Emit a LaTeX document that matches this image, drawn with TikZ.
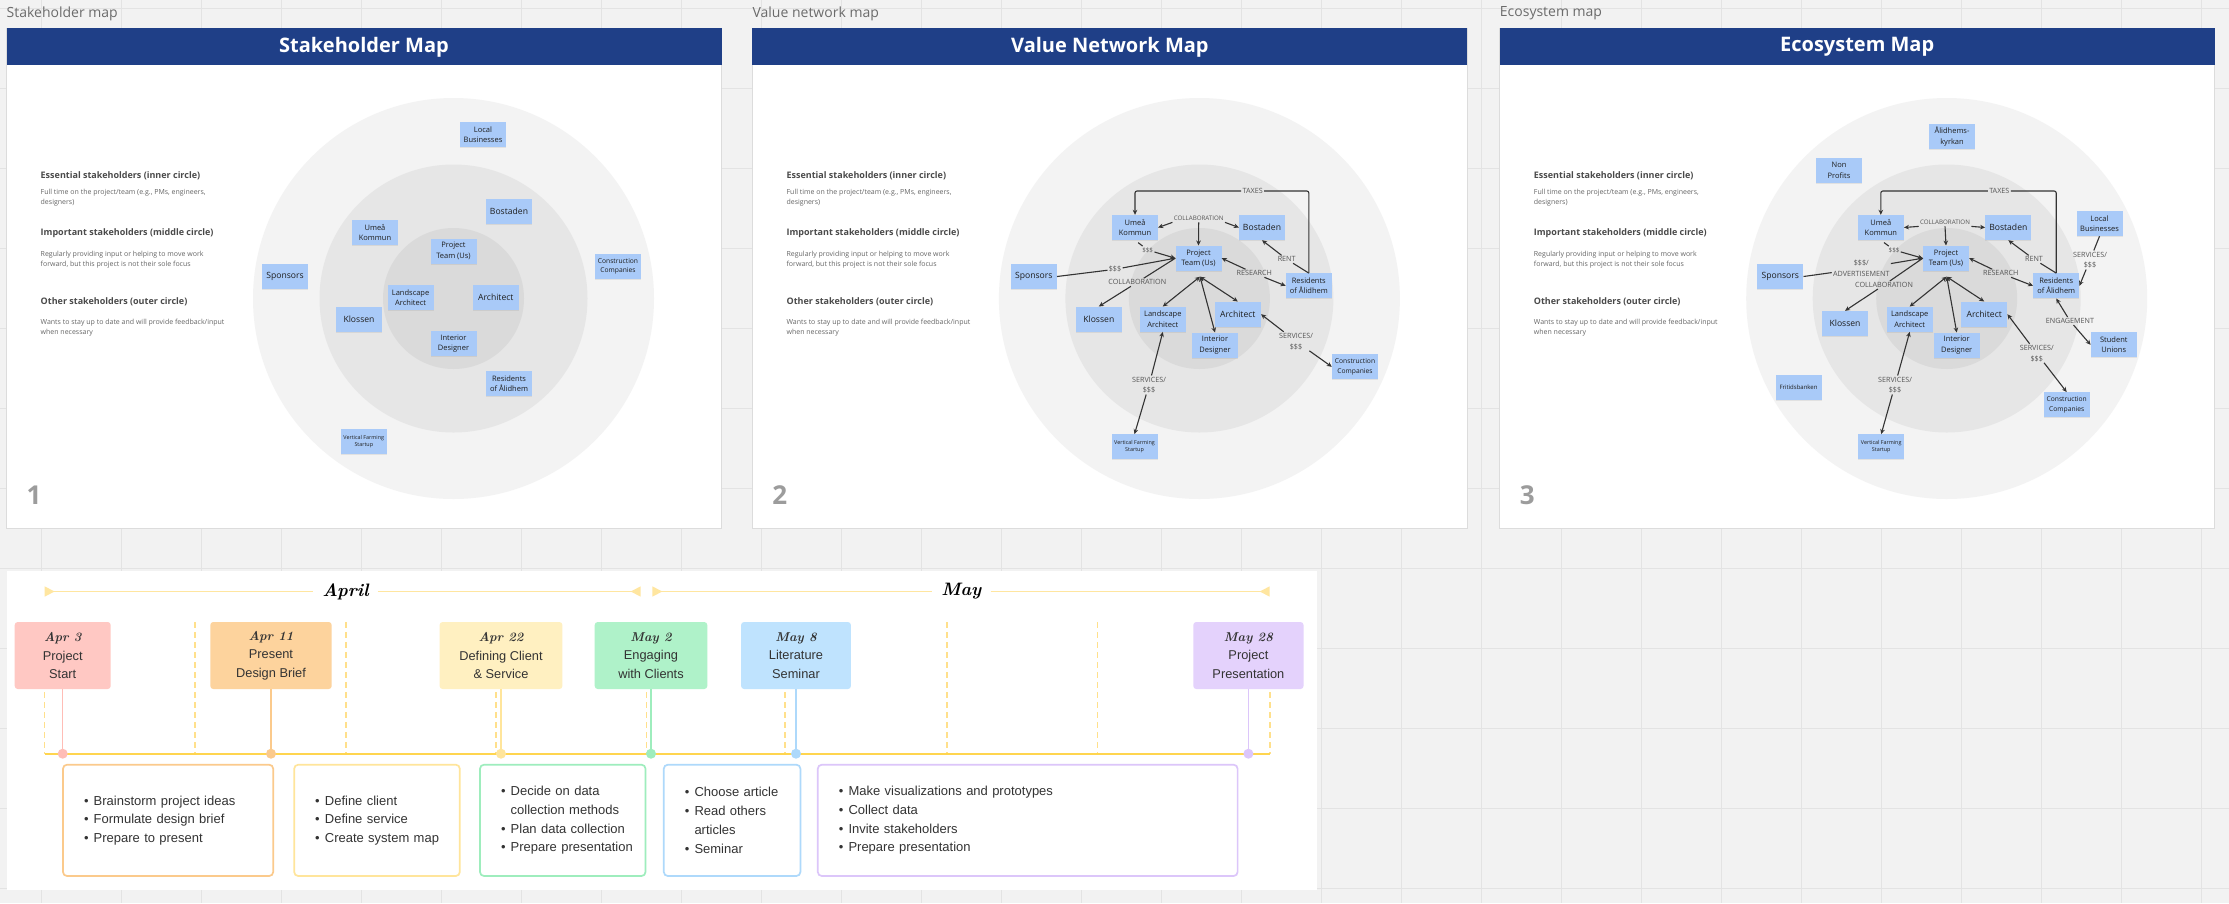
\documentclass[tikz,border=0pt]{standalone}
\usepackage{fontspec}
\newfontfamily\osans{Open Sans}
\newfontfamily\lsans{Liberation Sans}
\usetikzlibrary{arrows.meta,shadows}
\newcommand\fsz[2]{\fontsize{#1}{#2}\selectfont}
\newcommand\hand{\rmfamily\bfseries\itshape}
\newcommand\itm[1]{\mbox{\makebox[9.7pt][l]{\textbullet}#1}}
\newcommand\cnt[1]{\mbox{\hspace*{9.7pt}#1}}
\definecolor{canvas}{HTML}{F2F2F2}
\definecolor{gridc}{HTML}{E3E3E3}
\definecolor{titleblue}{HTML}{1F3F87}
\definecolor{ringA}{HTML}{F3F3F3}
\definecolor{ringB}{HTML}{E6E6E6}
\definecolor{ringC}{HTML}{DADADA}
\definecolor{stickyc}{HTML}{A9CAF8}
\definecolor{inkd}{HTML}{1E1E1E}
\definecolor{arrowc}{HTML}{333333}
\definecolor{lblc}{HTML}{555555}
\definecolor{headc}{HTML}{4A4A4A}
\definecolor{bodyc}{HTML}{666666}
\definecolor{secc}{HTML}{6B6B6B}
\definecolor{numc}{HTML}{9C9C9C}
\definecolor{panelline}{HTML}{DCDCDC}
\definecolor{tltext}{HTML}{333333}
\definecolor{pinkf}{HTML}{FFC8C3}\definecolor{pinks}{HTML}{FFBDB6}
\definecolor{orangef}{HTML}{FDD39D}\definecolor{oranges}{HTML}{FBCA8C}
\definecolor{yellowf}{HTML}{FFF0C1}\definecolor{yellows}{HTML}{FFE59B}
\definecolor{greenf}{HTML}{AFF2C9}\definecolor{greens}{HTML}{9EEDBD}
\definecolor{bluef}{HTML}{BFE3FE}\definecolor{blues}{HTML}{AED9FB}
\definecolor{purplef}{HTML}{E4D2FC}\definecolor{purples}{HTML}{DCC6FA}
\definecolor{dashc}{HTML}{FFE08C}
\definecolor{mainc}{HTML}{FFD54F}
\definecolor{monthc}{HTML}{FFE6A0}
\tikzset{
  sticky/.style={fill=stickyc, text=inkd, minimum width=46, minimum height=25, inner sep=1, align=center,
    drop shadow={shadow xshift=0pt, shadow yshift=-1pt, opacity=0.15}, font=\osans\fsz{7.5}{10.5}},
  bigst/.style={sticky, font=\osans\fsz{8.6}{10.5}},
  smst/.style={sticky, font=\osans\fsz{6.7}{9.1}},
  frst/.style={sticky, font=\osans\fsz{6}{8}},
  tinyst/.style={sticky, font=\osans\fsz{5.4}{6.8}},
  flow/.style={draw=arrowc, line width=1.1, rounded corners=2},
  tip/.style={flow, -{Stealth[length=5pt,width=4.6pt]}},
  tips/.style={flow, {Stealth[length=5pt,width=4.6pt]}-{Stealth[length=5pt,width=4.6pt]}},
  rtip/.style={flow, {Stealth[length=5pt,width=4.6pt]}-},
  albl/.style={text=lblc, font=\osans\fsz{7.2}{10.6}, inner sep=1.2, align=center},
  slbl/.style={albl, font=\osans\fsz{6.2}{8}},
  seclbl/.style={text=secc, font=\osans\fsz{14}{16}, inner sep=0},
  titlelbl/.style={text=white, font=\osans\bfseries\fsz{20}{22}, inner sep=0},
  numlbl/.style={text=numc, font=\osans\bfseries\fsz{26}{28}, inner sep=0},
  headlbl/.style={text=headc, font=\osans\bfseries\fsz{9}{11}, inner sep=0},
  bodylbl/.style={text=bodyc, font=\osans\fsz{7}{9.8}, inner sep=0, align=left},
  dashv/.style={draw=dashc, line width=1.6, dash pattern=on 6pt off 4pt},
  mainline/.style={draw=mainc, line width=2.3},
  monthbar/.style={draw=monthc, line width=1.5},
  monthlbl/.style={text=black, font=\hand\fsz{18}{20}, inner xsep=9, inner ysep=0},
  mstone/.style={rounded corners=3, minimum height=67, align=center, inner sep=0,
    font=\lsans\fsz{12.8}{18.5}, text=tltext},
  stemline/.style={line width=1.3},
  tdot/.style={circle, minimum size=10, inner sep=0},
  task/.style={rounded corners=4, line width=1.7, fill=white, minimum height=111.3, align=left,
    inner xsep=21, inner ysep=0, font=\lsans\fsz{13}{18.7}, text=tltext},
}
\newcommand\mappanel[5]{%
  \fill[white] (#1,28) rectangle ++(715,500);
  \draw[panelline, line width=0.8] (#1,28) rectangle ++(715,500);
  \fill[titleblue] (#1,28) rectangle ++(715,37);
  \node[seclbl, anchor=west] (#5sec) at (#1,13.5) {#2};
  \node[titlelbl] (#5title) at (#1+357.5,47) {#3};
  \node[numlbl] (#5num) at (#1+27.5,495.5) {#4};
  \fill[ringA] (#1+447,298.5) circle[radius=200.5];
  \fill[ringB] (#1+447,298.5) circle[radius=134];
  \fill[ringC] (#1+447,298.5) circle[radius=70.5];
  \node[headlbl, anchor=west] (#5h1) at (#1+34,175.8) {Essential stakeholders (inner circle)};
  \node[bodylbl, anchor=west] (#5b1) at (#1+34,197.6) {Full time on the project/team (e.g., PMs, engineers,\\designers)};
  \node[headlbl, anchor=west] (#5h2) at (#1+34,233.6) {Important stakeholders (middle circle)};
  \node[bodylbl, anchor=west] (#5b2) at (#1+34,259.3) {Regularly providing input or helping to move work\\forward, but this project is not their sole focus};
  \node[headlbl, anchor=west] (#5h3) at (#1+34,301.6) {Other stakeholders (outer circle)};
  \node[bodylbl, anchor=west] (#5b3) at (#1+34,327.6) {Wants to stay up to date and will provide feedback/input\\when necessary};
}
\begin{document}
\begin{tikzpicture}[x=1pt,y=-1pt]
\useasboundingbox (0,0) rectangle (2229,903);
\fill[canvas] (0,0) rectangle (2229,903);
\foreach \gx in {0,...,27} \draw[gridc, line width=0.8] (41.7+80*\gx,0) -- (41.7+80*\gx,903);
\foreach \gy in {0,...,11} \draw[gridc, line width=0.8] (0,8.5+80*\gy) -- (2229,8.5+80*\gy);

% ---------- panel 1
\mappanel{6.5}{Stakeholder map}{Stakeholder Map}{1}{a}
\node[sticky] (alocal) at (483,134.5) {Local\\Businesses};
\node[bigst] (abost) at (509,211) {Bostaden};
\node[sticky] (aumea) at (375,232.6) {Umeå\\Kommun};
\node[sticky] (aproj) at (453.5,251) {Project\\Team (Us)};
\node[bigst] (aspons) at (285,276.5) {Sponsors};
\node[smst] (aconstr) at (618,266.6) {Construction\\Companies};
\node[sticky] (aland) at (410.6,297.7) {Landscape\\Architect};
\node[bigst] (aarch) at (495.8,297.7) {Architect};
\node[bigst] (akloss) at (359,319.5) {Klossen};
\node[sticky] (ainter) at (453.5,343.7) {Interior\\Designer};
\node[sticky] (aresid) at (509,383.6) {Residents\\of Ålidhem};
\node[tinyst] (avert) at (363.8,441.6) {Vertical Farming\\Startup};

% ---------- panel 2
\mappanel{752.4}{Value network map}{Value Network Map}{2}{b}
\node[sticky] (bumea) at (1135,227.5) {Umeå\\Kommun};
\node[bigst] (bbost) at (1262,227.5) {Bostaden};
\node[sticky] (bproj) at (1198.5,258.2) {Project\\Team (Us)};
\node[bigst] (bspons) at (1033.8,276.5) {Sponsors};
\node[sticky] (bresid) at (1308.8,285.8) {Residents\\of Ålidhem};
\node[bigst] (bkloss) at (1098.8,319.2) {Klossen};
\node[sticky] (bland) at (1162.8,319.2) {Landscape\\Architect};
\node[bigst] (barch) at (1237.8,314.2) {Architect};
\node[sticky] (binter) at (1215,345.2) {Interior\\Designer};
\node[smst] (bconstr) at (1355,366.8) {Construction\\Companies};
\node[tinyst] (bvert) at (1134.5,446.8) {Vertical Farming\\Startup};

\node[albl] (btax) at (1252.7,191) {TAXES};
\draw[flow] (bresid.north) |- (btax.east);
\draw[tip] (btax.west) -| (bumea.north);
\node[slbl] (bcol) at (1198.7,218.7) {COLLABORATION};
\draw[tip] (bcol.south west) -- (bumea.east);
\draw[tip] (bcol.south east) -- (bbost.west);
\draw[tip] (bcol.south) -- (bproj.north);
\node[slbl] (bd1) at (1147.7,250) {\$\$\$};
\draw[flow, shorten <=4pt] (bumea.south) -- (bd1);
\draw[tip] (bd1) -- (bproj.west);
\node[albl] (bd2) at (1115,269.3) {\$\$\$};
\draw[flow] (bspons.east) -- (bd2);
\draw[tip] (bd2) -- (bproj.west);
\node[albl] (bcol2) at (1137.3,282.3) {COLLABORATION};
\draw[flow] (bproj.west) -- (bcol2);
\draw[tip] (bcol2) -- (bkloss.north);
\node[albl] (bres) at (1254.3,273.3) {RESEARCH};
\draw[rtip] (bproj.east) -- (bres);
\draw[tip] (bres) -- (bresid.west);
\node[albl] (brent) at (1286.7,259.3) {RENT};
\draw[flow] (bresid.north) -- (brent);
\draw[tip] (brent) -- (bbost.south);
\coordinate (bhub) at (1200,276.7);
\draw[tips] (bhub) -- (bland.north);
\draw[tips] (bhub) -- (barch.north);
\draw[tips] (bhub) -- (binter.north);
\node[albl] (bsv1) at (1296,341.3) {SERVICES/\\\$\$\$};
\draw[rtip] (barch.east) -- (bsv1);
\draw[tip] (bsv1) -- (bconstr.west);
\node[albl] (bsv2) at (1149,385) {SERVICES/\\\$\$\$};
\draw[rtip] (bland.south) -- (bsv2);
\draw[tip] (bsv2) -- (bvert.north);

% ---------- panel 3
\mappanel{1499.7}{Ecosystem map}{Ecosystem Map}{3}{c}
\node[sticky] (ckyrk) at (1952,136.8) {Ålidhems-\\kyrkan};
\node[sticky] (cnonp) at (1839,170.4) {Non\\Profits};
\node[sticky] (cumea) at (1880.8,227.5) {Umeå\\Kommun};
\node[bigst] (cbost) at (2008.3,227.5) {Bostaden};
\node[sticky] (clocal) at (2099.5,223.5) {Local\\Businesses};
\node[sticky] (cproj) at (1946,258.2) {Project\\Team (Us)};
\node[bigst] (cspons) at (1780.3,276.5) {Sponsors};
\node[sticky] (cresid) at (2056.2,285.8) {Residents\\of Ålidhem};
\node[bigst] (ckloss) at (1845,323.5) {Klossen};
\node[sticky] (cland) at (1909.7,319.2) {Landscape\\Architect};
\node[bigst] (carch) at (1984.2,314.2) {Architect};
\node[sticky] (cinter) at (1956.7,345.2) {Interior\\Designer};
\node[sticky] (cstud) at (2113.8,344.8) {Student\\Unions};
\node[frst] (cfrit) at (1798.5,387.5) {Fritidsbanken};
\node[smst] (cconstr) at (2066.7,404.8) {Construction\\Companies};
\node[tinyst] (cvert) at (1881.2,446.8) {Vertical Farming\\Startup};

\node[albl] (ctax) at (1999.3,191) {TAXES};
\draw[flow] (cresid.north) |- (ctax.east);
\draw[tip] (ctax.west) -| (cumea.north);
\node[slbl] (ccol) at (1945,222.7) {COLLABORATION};
\draw[tip] (ccol.south west) -- (cumea.east);
\draw[tip] (ccol.south east) -- (cbost.west);
\draw[tip] (ccol.south) -- (cproj.north);
\node[slbl] (cd1) at (1894,250) {\$\$\$};
\draw[flow, shorten <=4pt] (cumea.south) -- (cd1);
\draw[tip] (cd1) -- (cproj.west);
\node[albl] (cadv) at (1861.3,268.5) {\$\$\$/\\ADVERTISEMENT};
\draw[flow] (cspons.east) -- (cadv);
\draw[tip] (cadv) -- (cproj.west);
\node[albl] (ccol2) at (1884,285) {COLLABORATION};
\draw[flow] (cproj.west) -- (ccol2);
\draw[tip] (ccol2) -- (ckloss.north);
\node[albl] (cres) at (2000.7,273.3) {RESEARCH};
\draw[rtip] (cproj.east) -- (cres);
\draw[tip] (cres) -- (cresid.west);
\node[albl] (crent) at (2034,259.3) {RENT};
\draw[flow] (cresid.north) -- (crent);
\draw[tip] (crent) -- (cbost.south);
\coordinate (chub) at (1946.7,276.7);
\draw[tips] (chub) -- (cland.north);
\draw[tips] (chub) -- (carch.north);
\draw[tips] (chub) -- (cinter.north);
\node[albl] (csv0) at (2090,260) {SERVICES/\\\$\$\$};
\draw[flow] (clocal.south) -- (csv0);
\draw[tip] (csv0) -- (cresid.east);
\node[albl] (ceng) at (2070,321) {ENGAGEMENT};
\draw[rtip] (cresid.south) -- (ceng);
\draw[tip] (ceng) -- (cstud.west);
\node[albl] (csv1) at (2036.7,353.3) {SERVICES/\\\$\$\$};
\draw[rtip] (carch.east) -- (csv1);
\draw[tip] (csv1) -- (cconstr.north);
\node[albl] (csv2) at (1895,385) {SERVICES/\\\$\$\$};
\draw[rtip] (cland.south) -- (csv2);
\draw[tip] (csv2) -- (cvert.north);

% ---------- timeline
\fill[white] (6.7,571) rectangle (1316.5,890);
\foreach \dx in {44.6,195,346,496,646.5,784.8,947,1097.5,1270} \draw[dashv] (\dx,622) -- (\dx,753.7);
\draw[mainline] (44.6,753.7) -- (1269.7,753.7);

\node[monthlbl] (mapr) at (345.5,591.5) {April};
\coordinate (aprS) at (44.6,591.5);
\coordinate (aprE) at (640.7,591.5);
\draw[monthbar, {Triangle[reversed,length=10pt,width=10pt]}-] (aprS) -- (mapr);
\draw[monthbar, -{Triangle[reversed,length=10pt,width=10pt]}] (mapr) -- (aprE);
\node[monthlbl] (mmay) at (961.3,591.5) {May};
\coordinate (mayS) at (652.3,591.5);
\coordinate (mayE) at (1269.7,591.5);
\draw[monthbar, {Triangle[reversed,length=10pt,width=10pt]}-] (mayS) -- (mmay);
\draw[monthbar, -{Triangle[reversed,length=10pt,width=10pt]}] (mmay) -- (mayE);

\node[mstone, fill=pinkf, minimum width=96] (ms1) at (62.7,655.5) {{\hand Apr 3}\\Project\\Start};
\node[mstone, fill=orangef, minimum width=121.4] (ms2) at (271,655.5) {{\hand Apr 11}\\Present\\Design Brief};
\node[mstone, fill=yellowf, minimum width=122.8] (ms3) at (501,655.5) {{\hand Apr 22}\\Defining Client\\\& Service};
\node[mstone, fill=greenf, minimum width=112.6] (ms4) at (651,655.5) {{\hand May 2}\\Engaging\\with Clients};
\node[mstone, fill=bluef, minimum width=109.8] (ms5) at (796,655.5) {{\hand May 8}\\Literature\\Seminar};
\node[mstone, fill=purplef, minimum width=110.2] (ms6) at (1248.4,655.5) {{\hand May 28}\\Project\\Presentation};

\node[tdot, fill=pinks] (d1) at (62.7,753.7) {};
\node[tdot, fill=oranges] (d2) at (271,753.7) {};
\node[tdot, fill=yellows] (d3) at (501,753.7) {};
\node[tdot, fill=greens] (d4) at (651,753.7) {};
\node[tdot, fill=blues] (d5) at (796,753.7) {};
\node[tdot, fill=purples] (d6) at (1248.4,753.7) {};
\draw[stemline, pinks] (ms1.south) -- (d1);
\draw[stemline, oranges] (ms2.south) -- (d2);
\draw[stemline, yellows] (ms3.south) -- (d3);
\draw[stemline, greens] (ms4.south) -- (d4);
\draw[stemline, blues] (ms5.south) -- (d5);
\draw[stemline, purples] (ms6.south) -- (d6);

\node[task, draw=oranges, text width=168.2] (t1) at (168.1,820.35) {\itm{Brainstorm project ideas}\\\itm{Formulate design brief}\\\itm{Prepare to present}};
\node[task, draw=yellows, text width=123.6] (t2) at (377,820.35) {\itm{Define client}\\\itm{Define service}\\\itm{Create system map}};
\node[task, draw=greens, text width=123.5] (t3) at (562.75,820.35) {\itm{Decide on data}\\\cnt{collection methods}\\\itm{Plan data collection}\\\itm{Prepare presentation}};
\node[task, draw=blues, text width=94.6] (t4) at (732.1,820.35) {\itm{Choose article}\\\itm{Read others}\\\cnt{articles}\\\itm{Seminar}};
\node[task, draw=purples, text width=377.8] (t5) at (1027.7,820.35) {\itm{Make visualizations and prototypes}\\\itm{Collect data}\\\itm{Invite stakeholders}\\\itm{Prepare presentation}};
\end{tikzpicture}
\end{document}
